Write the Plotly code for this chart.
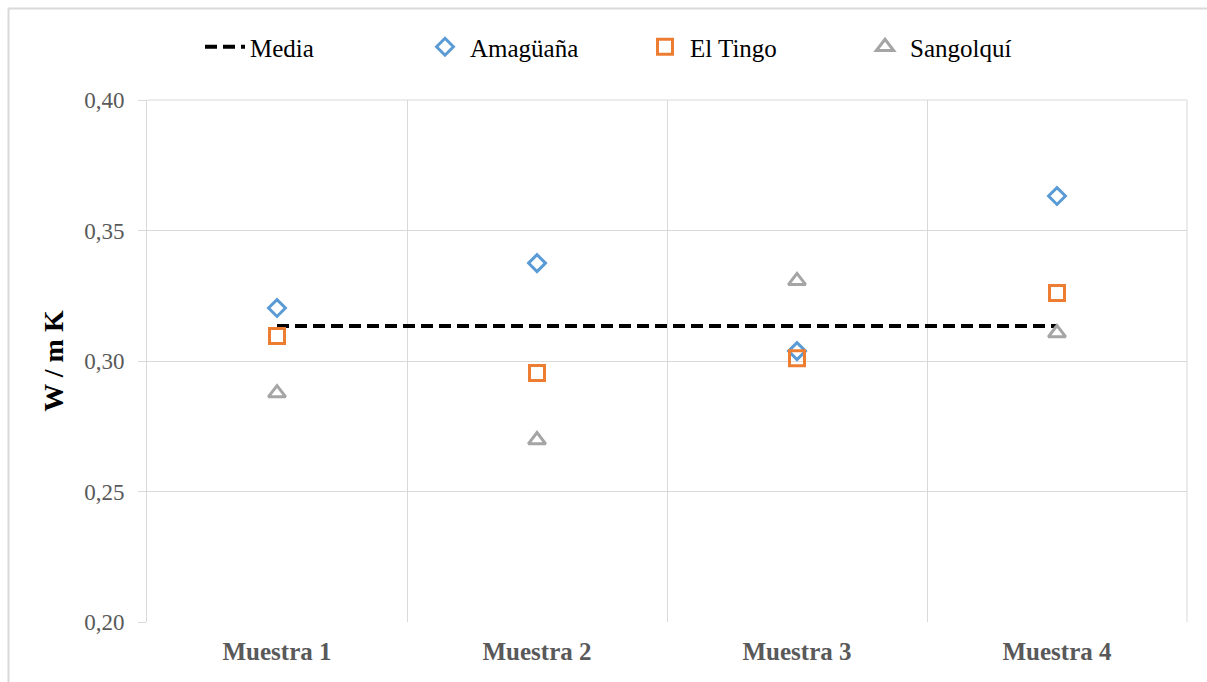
import plotly.graph_objects as go

categories = ["Muestra 1", "Muestra 2", "Muestra 3", "Muestra 4"]
amaguana = [0.3203, 0.3375, 0.3038, 0.3632]
el_tingo = [0.3096, 0.2954, 0.3011, 0.3261]
sangolqui = [0.2877, 0.2697, 0.3307, 0.3107]
media = [0.3134, 0.3134, 0.3134, 0.3134]
y_ticks = [0.20, 0.25, 0.30, 0.35, 0.40]
y_tick_labels = ["0,20", "0,25", "0,30", "0,35", "0,40"]

xs = list(range(1, len(categories) + 1))
FONT = "Liberation Serif"

fig = go.Figure()
fig.add_trace(go.Scatter(x=xs, y=media, mode="lines", name="Media",
                         line=dict(color="black", width=4, dash="12px,6px")))
fig.add_trace(go.Scatter(x=xs, y=amaguana, mode="markers", name="Amagüaña",
                         marker=dict(symbol="diamond-open", size=13, color="#5B9BD5",
                                     line=dict(width=3, color="#5B9BD5"))))
fig.add_trace(go.Scatter(x=xs, y=el_tingo, mode="markers", name="El Tingo",
                         marker=dict(symbol="square-open", size=15, color="#ED7D31",
                                     line=dict(width=3, color="#ED7D31"))))
fig.add_trace(go.Scatter(x=xs, y=sangolqui, mode="markers", name="Sangolquí",
                         marker=dict(symbol="triangle-up-open", size=15, color="#A5A5A5",
                                     line=dict(width=3, color="#A5A5A5"))))

L, R, T, B = 147, 20, 100, 60
W, H = 1207, 682
pw, ph = W - L - R, H - T - B

def px_x(p):
    return (p - L) / pw

def px_y(p):
    return (H - B - p) / ph

fig.update_layout(
    width=W, height=H,
    margin=dict(l=L, r=R, t=T, b=B),
    paper_bgcolor="white", plot_bgcolor="white",
    font=dict(family=FONT, color="black", size=17),
    showlegend=True,
    legend=dict(orientation="h", x=px_x(200), xanchor="left", y=px_y(47), yanchor="middle",
                font=dict(family=FONT, size=25, color="black"),
                itemwidth=40, tracegroupgap=0, entrywidth=165, entrywidthmode="pixels"),
    xaxis=dict(range=[0.5, 4.5], tickvals=xs, ticktext=categories,
               showgrid=False, zeroline=False, showline=False, ticks="",
               ticklabelstandoff=12,
               tickfont=dict(family=FONT, size=25, color="#595959", weight="bold"),
               minor=dict(tick0=0.5, dtick=1, showgrid=True, gridcolor="#D9D9D9", gridwidth=1,
                          ticks=""),
               fixedrange=True),
    yaxis=dict(range=[0.20, 0.40], tickvals=y_ticks, ticktext=y_tick_labels,
               showgrid=True, gridcolor="#D9D9D9", gridwidth=1, zeroline=False,
               showline=True, linecolor="#D9D9D9", linewidth=1,
               ticks="outside", ticklen=8, tickcolor="#D9D9D9",
               ticklabelstandoff=9,
               tickfont=dict(family=FONT, size=23, color="#595959"),
               title=dict(text="W / m K", font=dict(family=FONT, size=28, color="black", weight="bold"),
                          standoff=12)),
    shapes=[
        dict(type="line", xref="paper", yref="paper",
             x0=px_x(8.5), x1=px_x(1207), y0=px_y(8.5), y1=px_y(8.5),
             line=dict(color="#D9D9D9", width=2), layer="below"),
        dict(type="line", xref="paper", yref="paper",
             x0=px_x(8.5), x1=px_x(8.5), y0=px_y(8.5), y1=px_y(682),
             line=dict(color="#D9D9D9", width=2), layer="below"),
        dict(type="line", xref="paper", yref="paper", x0=1, x1=1, y0=0, y1=1,
             line=dict(color="#D9D9D9", width=1)),
        dict(type="line", xref="paper", yref="paper", x0=0, x1=1, y0=1, y1=1,
             line=dict(color="#D9D9D9", width=1)),
    ],
)

fig.write_html("out.html")
